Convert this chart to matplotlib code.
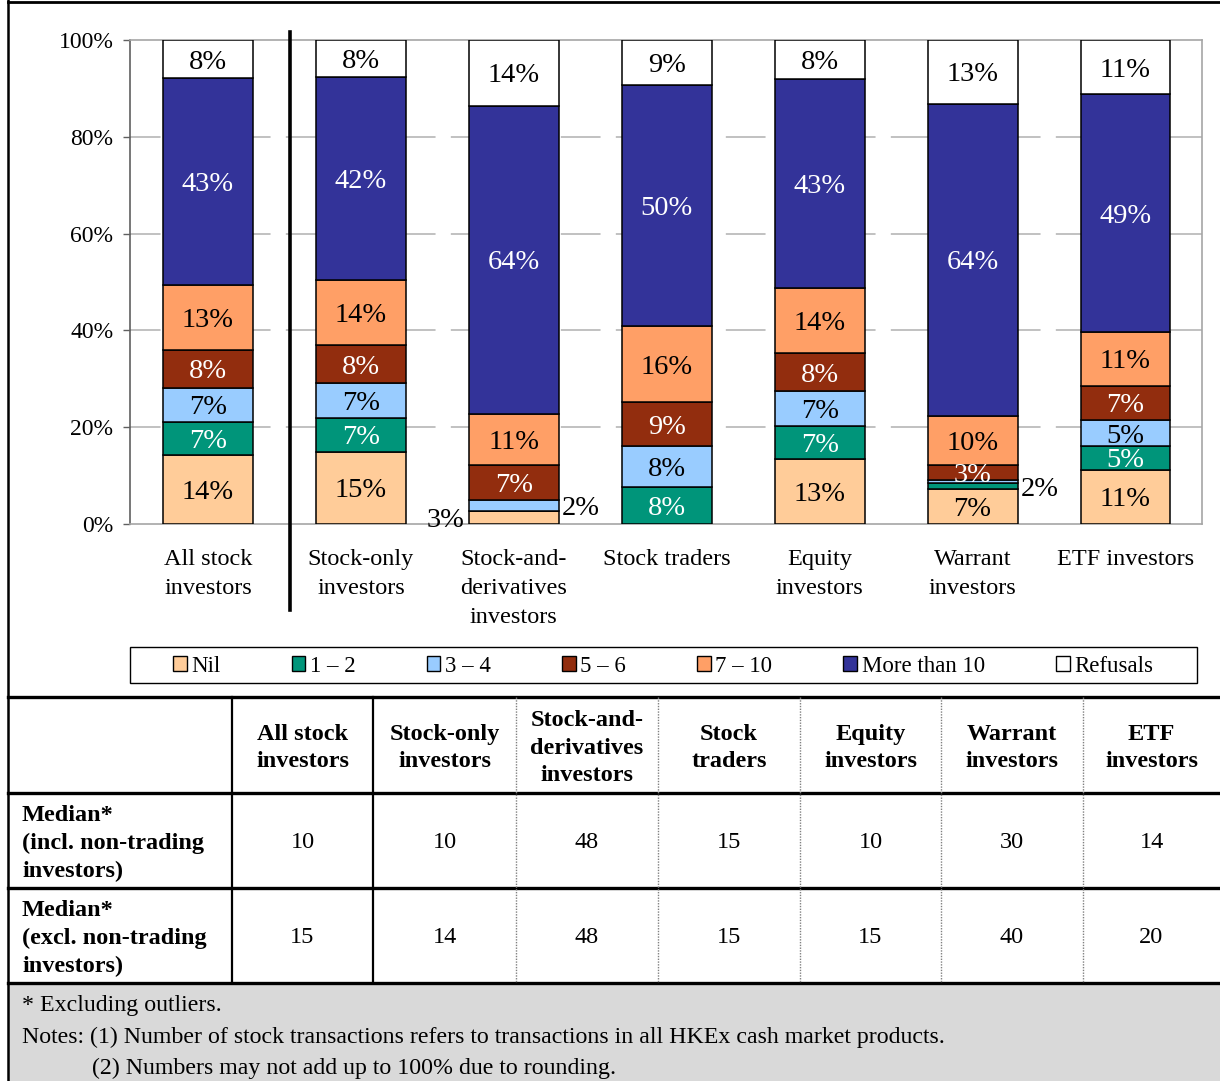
import numpy as np
import matplotlib.pyplot as plt
from matplotlib.patches import Patch, Rectangle

plt.rcParams['font.family'] = ['Liberation Serif', 'DejaVu Serif']

categories = ['All stock\ninvestors', 'Stock-only\ninvestors', 'Stock-and-\nderivatives\ninvestors',
              'Stock traders', 'Equity\ninvestors', 'Warrant\ninvestors', 'ETF investors']
series = ['Nil', '1 – 2', '3 – 4', '5 – 6', '7 – 10', 'More than 10', 'Refusals']
colors = ['#FFCC99', '#00957A', '#99CCFF', '#922D0E', '#FF9F66', '#333399', '#FFFFFF']
text_colors = ['black', 'white', 'black', 'white', 'black', 'white', 'black']

# segment sizes (%)
nil = [14.3, 14.9, 2.7, 0.0, 13.4, 7.2, 11.2]
one_two = [6.8, 7.0, 0.0, 7.6, 6.8, 1.3, 4.9]
three_four = [7.0, 7.2, 2.3, 8.5, 7.3, 0.6, 5.4]
five_six = [7.9, 7.9, 7.2, 9.1, 7.8, 3.1, 7.0]
seven_ten = [13.4, 13.4, 10.5, 15.7, 13.5, 10.1, 11.2]
more_ten = [42.7, 42.0, 63.7, 49.8, 43.1, 64.5, 49.1]
refusals = [7.9, 7.6, 13.6, 9.3, 8.1, 13.2, 11.2]

# printed labels
nil_lbl = ['14%', '15%', '3%', '', '13%', '7%', '11%']
one_two_lbl = ['7%', '7%', '', '8%', '7%', '2%', '5%']
three_four_lbl = ['7%', '7%', '2%', '8%', '7%', '', '5%']
five_six_lbl = ['8%', '8%', '7%', '9%', '8%', '3%', '7%']
seven_ten_lbl = ['13%', '14%', '11%', '16%', '14%', '10%', '11%']
more_ten_lbl = ['43%', '42%', '64%', '50%', '43%', '64%', '49%']
refusals_lbl = ['8%', '8%', '14%', '9%', '8%', '13%', '11%']
# labels drawn beside the bar: (series index, category index) -> side
outside = {(0, 2): 'left', (2, 2): 'right', (1, 5): 'right'}

yticks = [0, 20, 40, 60, 80, 100]

table_headers = ['All stock\ninvestors', 'Stock-only\ninvestors', 'Stock-and-\nderivatives\ninvestors',
                 'Stock\ntraders', 'Equity\ninvestors', 'Warrant\ninvestors', 'ETF\ninvestors']
row_labels = ['Median*\n(incl. non-trading\ninvestors)', 'Median*\n(excl. non-trading\ninvestors)']
median_incl = [10, 10, 48, 15, 10, 30, 14]
median_excl = [15, 14, 48, 15, 15, 40, 20]
notes = ['* Excluding outliers.',
         'Notes: (1) Number of stock transactions refers to transactions in all HKEx cash market products.',
         '(2) Numbers may not add up to 100% due to rounding.']

values = [nil, one_two, three_four, five_six, seven_ten, more_ten, refusals]
labels = [nil_lbl, one_two_lbl, three_four_lbl, five_six_lbl, seven_ten_lbl, more_ten_lbl, refusals_lbl]

W, H = 1220, 1081
fig = plt.figure(figsize=(W / 100, H / 100), dpi=100)
ax = fig.add_axes([130 / W, 1 - 524 / H, 1072 / W, 484 / H])

x = np.arange(len(categories))
bw = 0.588
LBL = 20.5
bottom = np.zeros(len(categories))
for i, vals in enumerate(values):
    vals = np.array(vals)
    ax.bar(x, vals, bw, bottom=bottom, color=colors[i], edgecolor='black', linewidth=1.1,
           label=series[i], zorder=3)
    for j, txt in enumerate(labels[i]):
        if not txt:
            continue
        yc = bottom[j] + vals[j] / 2
        side = outside.get((i, j))
        if side == 'left':
            ax.annotate(txt, (x[j] - bw / 2, yc), xytext=(-3, 0), textcoords='offset points',
                        ha='right', va='center_baseline', fontsize=LBL, color='black', zorder=5)
        elif side == 'right':
            ax.annotate(txt, (x[j] + bw / 2, yc), xytext=(2, 0), textcoords='offset points',
                        ha='left', va='center_baseline', fontsize=LBL, color='black', zorder=5)
        else:
            ax.text(x[j], yc, txt, ha='center', va='center_baseline', fontsize=LBL,
                    color=text_colors[i], zorder=5)
    bottom += vals

ax.set_xlim(-0.51, 6.5)
ax.set_ylim(0, 100)
ax.set_yticks(yticks)
ax.set_yticklabels([f'{t}%' for t in yticks], fontsize=17)
ax.set_xticks(x)
ax.set_xticklabels(categories, fontsize=17.5, linespacing=1.5, va='top')
ax.tick_params(axis='x', length=0, pad=18)
ax.tick_params(axis='y', direction='out', length=5, width=1, color='#606060', pad=7)
for y in yticks[1:-1]:
    ax.axhline(y, color='#B0B0B0', linewidth=1.1, linestyle=(6, (26, 10)), zorder=1)
for s in ['top', 'right', 'bottom']:
    ax.spines[s].set_color('#A6A6A6')
    ax.spines[s].set_linewidth(1.2)
ax.spines['left'].set_color('#606060')
ax.spines['left'].set_linewidth(1.2)

# divider between the all-investor bar and the sub-groups
ax.plot([0.536, 0.536], [101.7, -17.8], color='black', linewidth=2.6, clip_on=False, zorder=6)

# overlay in pixel units for frame, legend box, table and notes
ov = fig.add_axes([0, 0, 1, 1], zorder=-1)
ov.set_xlim(0, W)
ov.set_ylim(H, 0)
ov.axis('off')

ov.add_patch(Rectangle((9, 985), W - 9, H - 985, facecolor='#D9D9D9', edgecolor='none'))
ov.plot([8, 8], [0, H], color='black', linewidth=1.8)
ov.plot([8, W], [1.5, 1.5], color='black', linewidth=2)

# legend
ov.add_patch(Rectangle((130, 647), 1067, 36, facecolor='white', edgecolor='black', linewidth=1))
handles = [Patch(facecolor=c, edgecolor='black', linewidth=1) for c in colors]
fig.legend(handles, series, loc='center', bbox_to_anchor=(663 / W, 1 - 666 / H), ncol=7,
           frameon=False, fontsize=16.5, handlelength=0.6, handleheight=0.6, handletextpad=0.2,
           columnspacing=3.1, borderpad=0)

# table
cols = [8, 232, 373, 516, 658, 800, 941, 1083, 1220]
rows = [697, 793, 888, 983]
for r in rows:
    ov.plot([8, W], [r, r], color='black', linewidth=2.4)
for c in cols[1:3]:
    ov.plot([c, c], [rows[0], rows[-1]], color='black', linewidth=1.6)
for c in cols[3:-1]:
    ov.plot([c, c], [rows[0], rows[-1]], color='#808080', linewidth=1, linestyle=(0, (1, 1)))

centers = [(cols[k] + cols[k + 1]) / 2 for k in range(1, len(cols) - 1)]
for cx, hdr in zip(centers, table_headers):
    ov.text(cx, (rows[0] + rows[1]) / 2 + 3, hdr, ha='center', va='center', fontsize=17.5,
            fontweight='bold', linespacing=1.4)
for r, (lbl, vals) in enumerate(zip(row_labels, [median_incl, median_excl])):
    cy = (rows[r + 1] + rows[r + 2]) / 2 + 3
    ov.text(22, cy, lbl, ha='left', va='center', fontsize=17.5, fontweight='bold', linespacing=1.4)
    for cx, v in zip(centers, vals):
        ov.text(cx, cy - 1, str(v), ha='center', va='center', fontsize=17.5)

ov.text(22, 1005, notes[0], ha='left', va='center', fontsize=17.2)
ov.text(22, 1037, notes[1], ha='left', va='center', fontsize=17.2)
ov.text(92, 1068, notes[2], ha='left', va='center', fontsize=17.2)

fig.savefig('out.png', dpi=100)
